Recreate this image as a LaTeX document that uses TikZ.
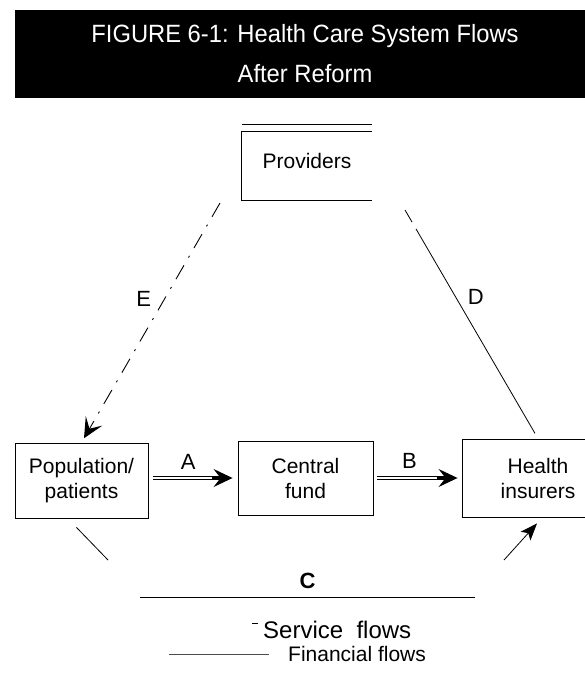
\documentclass[tikz,border=0pt]{standalone}
\usepackage{fontspec}
\setmainfont{Liberation Sans}
\usetikzlibrary{calc}
\usetikzlibrary{positioning}
\usetikzlibrary{arrows.meta}

\begin{document}
\begin{tikzpicture}[x=1pt, y=-1pt,
		box/.style={draw, line width=0.9pt, inner sep=0pt, align=center, font=\fontsize{21}{25}\selectfont},
		lbl/.style={inner sep=0pt, font=\fontsize{22}{25}\selectfont},
		rail/.style={line width=0.7pt},
		head/.style={line width=1.1pt, -{Stealth[length=19pt, width=18pt, inset=7pt]}},
		svc/.style={line width=0.9pt, dash pattern=on 16pt off 9pt on 2pt off 9pt, -{Stealth[length=20pt, width=19pt, inset=9pt, line width=1.3pt]}},
		fin/.style={line width=0.8pt}]
		\useasboundingbox (0, 0) rectangle (585, 695);
		\clip (0, 0) rectangle (585, 695);
		\fill (15, 10) rectangle (600, 98);
		\node[text=white, align=center, xscale=0.95, font=\fontsize{25}{40}\selectfont] (title) at (305, 54) {FIGURE 6-1: Health Care System Flows\\After Reform};
		\node[font=\fontsize{21}{25}\selectfont, inner sep=0pt, minimum width=130pt, minimum height=68pt, text depth=11pt] (prov) at (307, 166) {Providers};
		\draw[line width=0.9pt] (prov.north east) -- (prov.north west) -- (prov.south west) -- (prov.south east);
		\draw[line width=0.9pt] ([yshift=7pt]prov.north west) -- ([yshift=7pt]prov.north east);
		\node[box, minimum width=133pt, minimum height=75pt] (pop) at (81.5, 480.5) {Population/\\patients};
		\node[box, minimum width=135pt, minimum height=74pt] (fund) at (305.5, 478) {Central\\fund};
		\node[box, minimum width=152pt, minimum height=78pt] (insur) at (538, 478) {Health\\insurers};
		\coordinate (aS) at ($(pop.east |- fund.west)+(5, 0)$);
		\coordinate (aE) at ($(fund.west)+(-5, 0)$);
		\draw[rail] ([yshift=1.3pt]aS) -- ([yshift=1.3pt]$(aE)+(-10, 0)$);
		\draw[rail] ([yshift=-1.3pt]aS) -- ([yshift=-1.3pt]$(aE)+(-10, 0)$);
		\draw[head] ($(aE)+(-21, 0)$) -- (aE);
		\node[lbl, above=8pt of $(aS)!0.44!(aE)$] (labA) {A};
		\coordinate (bS) at ($(fund.east)+(4, 0)$);
		\coordinate (bE) at ($(insur.west |- fund.east)+(-4, 0)$);
		\draw[rail] ([yshift=1.3pt]bS) -- ([yshift=1.3pt]$(bE)+(-10, 0)$);
		\draw[rail] ([yshift=-1.3pt]bS) -- ([yshift=-1.3pt]$(bE)+(-10, 0)$);
		\draw[head] ($(bE)+(-21, 0)$) -- (bE);
		\node[lbl, above=9pt of $(bS)!0.4!(bE)$] (labB) {B};
		\coordinate (eStart) at (220, 203);
		\draw[svc, shorten >=5pt] (eStart) -- (pop.north) node[lbl, pos=0.4, left=13pt] {E};
		\coordinate (dStart) at (405, 210);
		\draw[fin, dash pattern=on 14pt off 8pt on 400pt, shorten >=6pt] (dStart) -- (insur.north) node[lbl, pos=0.38, right=12pt] {D};
		\coordinate (cLeft) at (108, 560);
		\coordinate (cRight) at (504, 560);
		\coordinate (cA) at (140, 597);
		\coordinate (cB) at (475, 597);
		\draw[fin] ([shift={(-5, 9)}]pop.south) -- (cLeft);
		\draw[fin] (cA) -- (cB) node[lbl, midway, above=8pt, font=\fontsize{22}{25}\selectfont\bfseries] {C};
		\draw[fin, -{Stealth[length=17pt, width=13pt, inset=4pt]}] (cRight) -- ([shift={(-1, 6)}]insur.south);
		\coordinate (svcA) at (252, 623);
		\coordinate (svcB) at (258, 623);
		\draw[line width=0.8pt] (svcA) -- (svcB);
		\node[inner sep=0pt, anchor=west, font=\fontsize{24}{28}\selectfont] (svcText) at (263, 630) {Service~~flows};
		\coordinate (finA) at (169, 654);
		\coordinate (finB) at (269, 654);
		\draw[line width=0.8pt, black!70] (finA) -- (finB);
		\node[inner sep=0pt, right=19pt of finB, font=\fontsize{21}{25}\selectfont] (finText) {Financial flows};
	\end{tikzpicture}
\end{document}
